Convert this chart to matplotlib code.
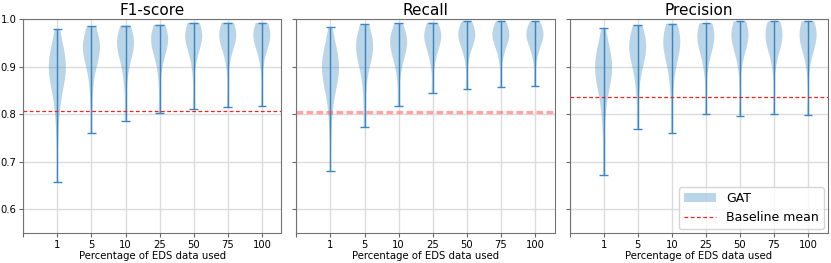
import matplotlib
matplotlib.use("Agg")
from matplotlib import pyplot as plt
from matplotlib.patches import Patch
from matplotlib.lines import Line2D

# Percentage of EDS data used
pcts = ['1', '5', '10', '25', '50', '75', '100']

# hand-read sample scores per run (one list per percentage)
f1_runs = [
    [0.658, 0.76, 0.80, 0.83, 0.845, 0.86, 0.87, 0.875, 0.88, 0.885, 0.89, 0.895, 0.90, 0.905, 0.91, 0.915, 0.92, 0.925, 0.93, 0.94, 0.95, 0.978],
    [0.760, 0.84, 0.88, 0.90, 0.915, 0.925, 0.93, 0.935, 0.94, 0.94, 0.945, 0.95, 0.955, 0.96, 0.97, 0.985],
    [0.786, 0.87, 0.90, 0.92, 0.93, 0.94, 0.945, 0.95, 0.95, 0.955, 0.96, 0.965, 0.97, 0.986],
    [0.802, 0.89, 0.92, 0.935, 0.945, 0.95, 0.955, 0.96, 0.96, 0.965, 0.97, 0.975, 0.988],
    [0.811, 0.90, 0.93, 0.945, 0.955, 0.96, 0.965, 0.965, 0.968, 0.97, 0.975, 0.98, 0.992],
    [0.815, 0.91, 0.935, 0.95, 0.958, 0.962, 0.966, 0.968, 0.97, 0.972, 0.976, 0.98, 0.992],
    [0.817, 0.91, 0.935, 0.95, 0.958, 0.962, 0.966, 0.968, 0.97, 0.972, 0.976, 0.98, 0.992],
]
recall_runs = [
    [0.681, 0.77, 0.81, 0.835, 0.85, 0.86, 0.87, 0.875, 0.88, 0.885, 0.89, 0.895, 0.90, 0.905, 0.91, 0.915, 0.92, 0.925, 0.93, 0.94, 0.95, 0.983],
    [0.772, 0.85, 0.89, 0.91, 0.92, 0.93, 0.935, 0.94, 0.945, 0.95, 0.955, 0.96, 0.97, 0.989],
    [0.816, 0.89, 0.91, 0.925, 0.935, 0.945, 0.95, 0.955, 0.955, 0.96, 0.965, 0.97, 0.991],
    [0.845, 0.91, 0.93, 0.945, 0.955, 0.96, 0.963, 0.966, 0.97, 0.975, 0.98, 0.992],
    [0.853, 0.92, 0.94, 0.952, 0.96, 0.965, 0.968, 0.97, 0.972, 0.976, 0.982, 0.995],
    [0.857, 0.92, 0.94, 0.952, 0.96, 0.965, 0.968, 0.97, 0.972, 0.976, 0.982, 0.995],
    [0.859, 0.92, 0.94, 0.952, 0.96, 0.965, 0.968, 0.97, 0.972, 0.976, 0.982, 0.995],
]
precision_runs = [
    [0.673, 0.77, 0.81, 0.835, 0.85, 0.86, 0.87, 0.875, 0.88, 0.885, 0.89, 0.895, 0.90, 0.905, 0.91, 0.915, 0.92, 0.925, 0.93, 0.94, 0.95, 0.980],
    [0.769, 0.85, 0.89, 0.91, 0.92, 0.93, 0.935, 0.94, 0.945, 0.95, 0.955, 0.96, 0.97, 0.987],
    [0.761, 0.86, 0.90, 0.92, 0.935, 0.945, 0.95, 0.955, 0.955, 0.96, 0.965, 0.97, 0.990],
    [0.800, 0.90, 0.93, 0.945, 0.955, 0.96, 0.963, 0.966, 0.97, 0.975, 0.98, 0.991],
    [0.797, 0.91, 0.94, 0.952, 0.96, 0.965, 0.968, 0.97, 0.972, 0.976, 0.982, 0.995],
    [0.800, 0.91, 0.94, 0.952, 0.96, 0.965, 0.968, 0.97, 0.972, 0.976, 0.982, 0.995],
    [0.798, 0.91, 0.94, 0.952, 0.96, 0.965, 0.968, 0.97, 0.972, 0.976, 0.982, 0.995],
]

titles = ['F1-score', 'Recall', 'Precision']
baselines = [0.806, 0.805, 0.836]
all_runs = [f1_runs, recall_runs, precision_runs]

fig, axes = plt.subplots(1, 3, figsize=(8.31, 2.63), dpi=100, sharey=True)
fig.subplots_adjust(left=0.028, right=0.996, top=0.928, bottom=0.114, wspace=0.058)

positions = list(range(1, len(pcts) + 1))

for k in range(3):
    ax = axes[k]
    ax.set_axisbelow(True)
    ax.grid(True, color='#dcdcdc', linewidth=1)
    parts = ax.violinplot(all_runs[k], positions=positions)
    for key in ['cmaxes', 'cmins', 'cbars']:
        parts[key].set_linewidth(1.0)
        parts[key].set_color('#3a87c4')
    if k == 1:
        # recall baseline appears as a thicker pale band
        ax.axhline(baselines[k], color='#ff5050', linestyle=(0, (2, 1)), linewidth=2.4, alpha=0.5)
    else:
        ax.axhline(baselines[k], color='#ee2222', linestyle=(0, (3, 2)), linewidth=0.9)
    ax.set_title(titles[k], fontsize=11, pad=3)
    ax.set_xticks([0] + positions)
    ax.set_xticklabels([''] + pcts)
    ax.set_xlabel('Percentage of EDS data used', fontsize=7.3, labelpad=1)
    ax.tick_params(labelsize=7.2, pad=2, length=3, color='0.4')
    for s in ax.spines.values():
        s.set_color('0.45')
    ax.set_ylim(0.55, 1.0)
    ax.set_yticks([0.6, 0.7, 0.8, 0.9, 1.0])

handles = [Patch(facecolor='C0', alpha=0.3, label='GAT'),
           Line2D([0], [0], color='#ee2222', linestyle=(0, (3, 2)), linewidth=0.9, label='Baseline mean')]
axes[2].legend(handles=handles, loc='lower right', fontsize=9, borderaxespad=0.3,
               handlelength=2.6)

plt.savefig('out.png')
